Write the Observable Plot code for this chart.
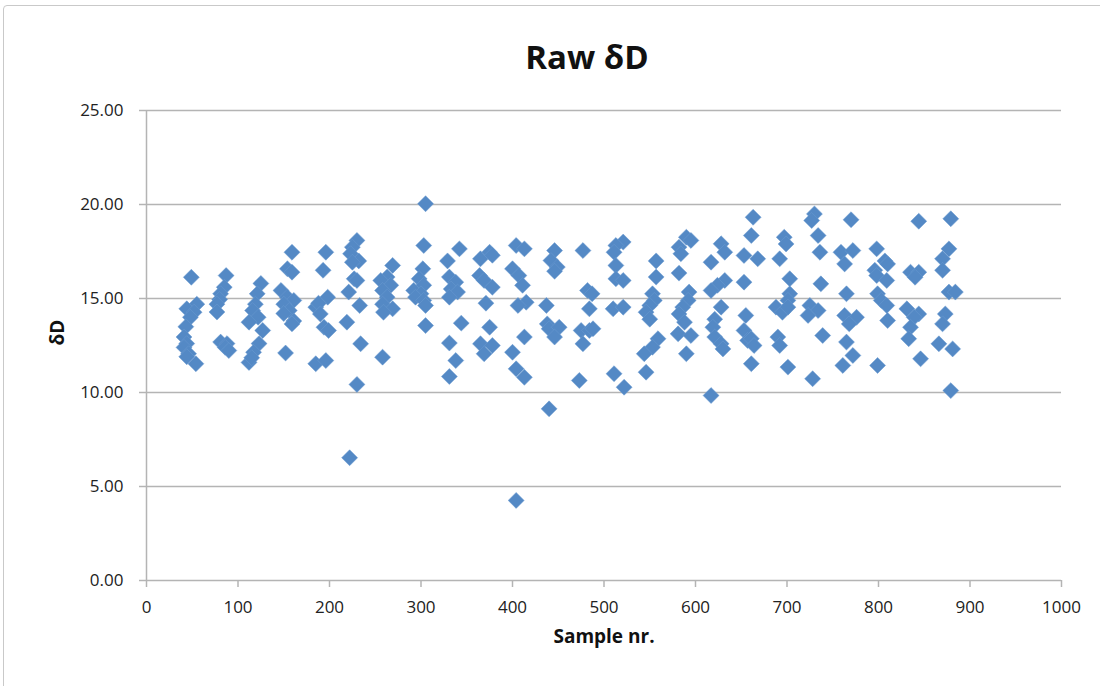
<!DOCTYPE html>
<html>
<head>
<meta charset="utf-8">
<script src="https://cdn.jsdelivr.net/npm/d3@7"></script>
<script src="https://cdn.jsdelivr.net/npm/@observablehq/plot@0.6"></script>
<style>
  html, body { margin: 0; padding: 0; background: #fff; overflow: hidden; }
  #wrap { position: relative; width: 1100px; height: 686px; overflow: hidden; font-family: "Open Sans", sans-serif; }
  #frame { position: absolute; left: 3px; top: 5px; width: 1200px; height: 800px; border: 1px solid #c9c9c9; border-radius: 4px; }
  #title { position: absolute; left: 387px; width: 400px; top: 40px; text-align: center; font-size: 33px; font-weight: 700; line-height: 33px; color: #111; }
  #chart { position: absolute; left: 0; top: 90px; }
</style>
</head>
<body>
<div id="wrap">
  <div id="frame"></div>
  <div id="title">Raw δD</div>
  <div id="chart"></div>
</div>
<script>
const sampleNr = [
  49,55,44,52,48,43,41,44,41,46,44,54,
  87,85,81,80,77,77,81,88,86,90,
  125,121,119,116,122,112,127,123,117,112,115,
  159,154,159,147,154,161,150,156,150,161,159,152,
  196,193,198,185,188,190,194,199,185,196,
  230,225,223,232,225,227,230,221,233,219,234,230,222,
  269,263,256,267,258,263,258,269,259,258,
  305,303,302,298,303,292,300,294,303,305,305,
  342,329,331,338,333,340,331,344,331,338,331,
  365,375,378,364,369,378,371,375,365,378,369,
  404,413,400,407,411,415,406,413,400,404,413,404,
  446,442,449,446,437,438,440,451,446,440,
  477,482,487,484,475,484,477,473,488,
  521,513,511,513,513,521,510,521,511,522,
  557,557,553,555,550,546,550,559,553,544,546,
  590,595,582,584,582,593,592,586,582,588,581,595,590,
  628,632,617,632,624,617,628,621,619,621,628,630,617,
  663,661,653,668,653,655,653,657,661,664,661,
  697,699,692,703,703,701,688,695,701,690,692,701,
  730,727,734,736,737,725,734,723,739,728,
  770,759,772,763,765,763,776,768,765,772,761,
  798,807,810,796,798,809,799,803,809,810,799,
  844,835,844,840,831,844,839,835,833,846,
  879,877,870,870,877,884,873,870,866,881,879
];
const deltaD = [
  16.13,14.7,14.45,14.27,14.0,13.5,12.95,12.6,12.4,12.06,11.9,11.53,
  16.22,15.6,15.25,14.95,14.7,14.28,12.68,12.6,12.4,12.23,
  15.8,15.25,14.7,14.36,14.0,13.74,13.3,12.6,12.14,11.6,11.85,
  17.46,16.58,16.4,15.43,15.07,14.9,14.7,14.36,14.2,13.8,13.65,12.1,
  17.46,16.5,15.07,14.54,14.75,14.18,13.47,13.3,11.53,11.7,
  18.09,17.73,17.38,17.0,16.93,16.05,15.96,15.34,14.63,13.74,12.59,10.43,6.53,
  16.76,16.14,15.96,15.7,15.43,15.07,14.7,14.45,14.27,11.88,
  20.04,17.82,16.58,16.05,15.7,15.43,15.25,15.07,14.9,14.63,13.56,
  17.64,17.0,16.14,15.87,15.5,15.34,15.07,13.69,12.63,11.7,10.85,
  17.11,17.46,17.3,16.22,15.96,15.6,14.75,13.47,12.59,12.5,12.06,
  17.82,17.64,16.58,16.22,15.7,14.8,14.63,12.95,12.14,11.26,10.81,4.26,
  17.55,17.02,16.67,16.45,14.63,13.65,13.39,13.47,12.95,9.13,
  17.55,15.43,15.25,14.45,13.3,13.3,12.59,10.64,13.39,
  18.0,17.82,17.46,16.76,16.05,15.96,14.45,14.54,11.0,10.28,
  17.0,16.14,15.25,14.9,14.63,14.27,13.9,12.86,12.41,12.06,11.08,
  18.26,18.09,17.73,17.38,16.35,15.34,14.9,14.54,14.18,13.74,13.12,13.03,12.06,
  17.91,17.46,16.93,15.96,15.7,15.43,14.54,13.9,13.47,12.95,12.59,12.32,9.84,
  19.32,18.35,17.29,17.11,15.87,14.1,13.3,12.77,12.86,12.5,11.53,
  18.26,17.9,17.11,16.05,15.25,14.9,14.54,14.27,14.54,12.95,12.5,11.35,
  19.5,19.15,18.35,17.46,15.78,14.63,14.36,14.1,13.03,10.73,
  19.19,17.46,17.55,16.84,15.25,14.1,14.0,13.65,12.68,11.97,11.44,
  17.64,17.0,16.84,16.5,16.22,15.96,15.25,14.9,14.63,13.83,11.44,
  19.11,16.4,16.4,16.13,14.45,14.18,14.0,13.47,12.86,11.79,
  19.24,17.64,17.11,16.5,15.34,15.34,14.18,13.65,12.59,12.32,10.1
];
const xTicks = [0,100,200,300,400,500,600,700,800,900,1000];
const yTicks = [0,5,10,15,20,25];
const xLabel = "Sample nr.";
const yLabel = "δD";

const data = sampleNr.map((x, i) => ({x, y: deltaD[i]}));
const gridColor = "#b4b4b4";

const chart = Plot.plot({
  width: 1100,
  height: 596,
  marginLeft: 146,
  marginRight: 39,
  marginTop: 20,
  marginBottom: 106,
  style: {fontFamily: "Open Sans, sans-serif", fontSize: "17px", color: "#222", background: "transparent", overflow: "visible"},
  x: {domain: [0, 1000], ticks: xTicks},
  y: {domain: [0, 25], ticks: yTicks},
  marks: [
    Plot.gridY(yTicks, {stroke: gridColor, strokeOpacity: 1, strokeWidth: 1.5}),
    Plot.ruleX([0], {stroke: gridColor, strokeWidth: 1.5}),
    Plot.axisY(yTicks, {tickSize: 7, tickPadding: 16, tickFormat: d3.format(".2f"), stroke: gridColor, strokeWidth: 1.5, label: null, fill: "#222"}),
    Plot.axisX(xTicks, {tickSize: 7, tickPadding: 13, tickFormat: d => String(d), stroke: gridColor, strokeWidth: 1.5, label: null, fill: "#222"}),
    Plot.dot(data, {x: "x", y: "y", symbol: "diamond2", r: 7.2, fill: "#5489c5", stroke: "#6b9ad0", strokeWidth: 0.5}),
    Plot.text([xLabel], {frameAnchor: "bottom", dy: 62, text: d => d, fontWeight: 700, fontSize: 19, fill: "#111"}),
    Plot.text([yLabel], {frameAnchor: "left", dx: -89, rotate: -90, text: d => d, fontWeight: 700, fontSize: 19, fill: "#111"})
  ]
});
document.getElementById("chart").appendChild(chart);
</script>
</body>
</html>
